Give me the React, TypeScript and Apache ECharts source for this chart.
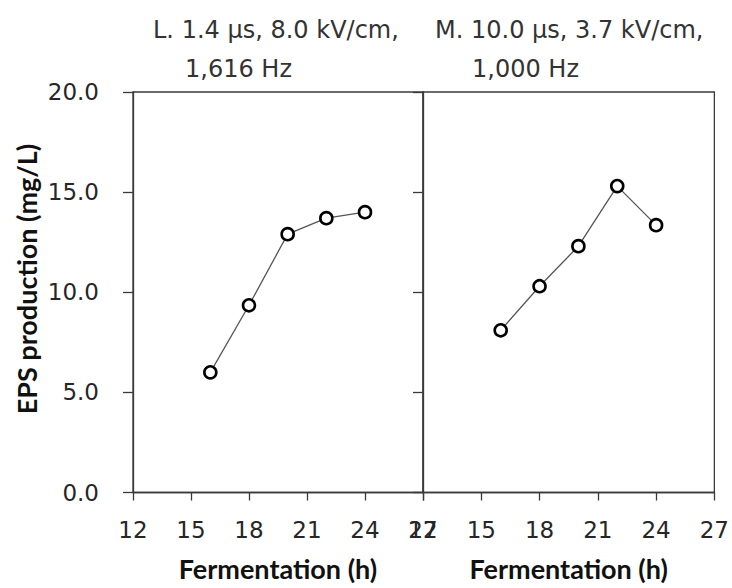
import React, { useEffect, useRef } from "react";
import * as echarts from "echarts";

const hours = [16, 18, 20, 22, 24];
const epsL = [6.0, 9.35, 12.9, 13.7, 14.0];
const epsM = [8.1, 10.3, 12.3, 15.3, 13.35];
const panelTitles = [
  ["L. 1.4 µs, 8.0 kV/cm,", "1,616 Hz"],
  ["M. 10.0 µs, 3.7 kV/cm,", "1,000 Hz"],
];
const xMin = 12;
const xMax = 27;
const xStep = 3;
const yMin = 0;
const yMax = 20;
const yStep = 5;
const xTitle = "Fermentation (h)";
const yTitle = "EPS production (mg/L)";

const TICK_FONT = "'DejaVu Sans', Verdana, sans-serif";
const BOLD_FONT = "Lato, 'Open Sans', sans-serif";
const AXIS_COLOR = "#3a3a3a";
const TEXT_COLOR = "#262626";

export default function App() {
  const ref = useRef<HTMLDivElement>(null);

  useEffect(() => {
    document.body.style.margin = "0";
    if (!ref.current) return;
    const chart = echarts.init(ref.current, null, { renderer: "svg" });

    const grids = [
      { left: 133, right: 309, top: 92, bottom: 95.5 },
      { left: 423, right: 17.5, top: 92, bottom: 95.5 },
    ];

    const xAxes = grids.map((_, i) => ({
      type: "value",
      gridIndex: i,
      min: xMin,
      max: xMax,
      interval: xStep,
      axisLine: { show: true, onZero: false, lineStyle: { color: AXIS_COLOR, width: 1.3 } },
      axisTick: { show: true, length: 8, lineStyle: { color: AXIS_COLOR, width: 1.3 } },
      splitLine: { show: false },
      axisLabel: {
        show: true,
        margin: 26,
        fontSize: 23,
        fontFamily: TICK_FONT,
        color: TEXT_COLOR,
        hideOverlap: false,
      },
      name: xTitle,
      nameLocation: "middle",
      nameGap: 62,
      nameTextStyle: {
        fontSize: 27,
        fontWeight: "bold",
        fontFamily: BOLD_FONT,
        color: "#111",
      },
    }));

    const yAxes = grids.map((_, i) => ({
      type: "value",
      gridIndex: i,
      min: yMin,
      max: yMax,
      interval: yStep,
      axisLine: { show: true, onZero: false, lineStyle: { color: AXIS_COLOR, width: 1.3 } },
      axisTick: { show: true, length: 10, lineStyle: { color: AXIS_COLOR, width: 1.3 } },
      splitLine: { show: false },
      axisLabel: {
        show: i === 0,
        margin: 34,
        fontSize: 23,
        fontFamily: TICK_FONT,
        color: TEXT_COLOR,
        formatter: (v: number) => v.toFixed(1),
      },
    }));

    const titleLefts = [153, 435];
    const titleLefts2 = [185, 472];
    const titles: any[] = [];
    panelTitles.forEach((t, i) => {
      titles.push({
        text: t[0],
        left: titleLefts[i],
        top: 18,
        padding: 0,
        textStyle: { fontSize: 24, fontWeight: "normal", fontFamily: TICK_FONT, color: "#333" },
      });
      titles.push({
        text: t[1],
        left: titleLefts2[i],
        top: 56.5,
        padding: 0,
        textStyle: { fontSize: 24, fontWeight: "normal", fontFamily: TICK_FONT, color: "#333" },
      });
    });

    const mkSeries = (vals: number[], i: number) => ({
      type: "line",
      xAxisIndex: i,
      yAxisIndex: i,
      data: hours.map((h, k) => [h, vals[k]]),
      symbol: "circle",
      symbolSize: 12,
      itemStyle: { color: "#ffffff", borderColor: "#000", borderWidth: 2.6 },
      lineStyle: { color: "#555", width: 1.3 },
      z: 5,
    });

    chart.setOption({
      animation: false,
      backgroundColor: "#ffffff",
      title: titles,
      grid: grids.map((g) => ({
        ...g,
        show: true,
        borderColor: AXIS_COLOR,
        borderWidth: 1.3,
        backgroundColor: "transparent",
      })),
      xAxis: xAxes,
      yAxis: yAxes,
      series: [mkSeries(epsL, 0), mkSeries(epsM, 1)],
      graphic: [
        {
          type: "text",
          x: 26,
          y: 279,
          rotation: Math.PI / 2,
          style: {
            text: yTitle,
            fontSize: 27,
            fontWeight: "bold",
            fontFamily: BOLD_FONT,
            fill: "#111",
            textAlign: "center",
            textVerticalAlign: "middle",
          },
        },
      ],
    });

    return () => chart.dispose();
  }, []);

  return <div ref={ref} style={{ width: 732, height: 588 }} />;
}
